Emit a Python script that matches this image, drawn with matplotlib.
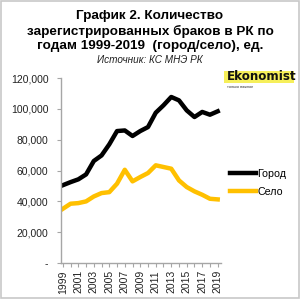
import matplotlib.pyplot as plt
from matplotlib.patches import Rectangle

years = list(range(1999, 2020))
city = [50500, 52500, 54300, 57500, 66200, 69800, 77000, 85600, 86000, 82400,
        85600, 88200, 97500, 102300, 107700, 105500, 99000, 94700, 98000, 96200, 98400]
village = [35200, 38500, 38900, 40000, 43200, 45400, 46000, 51500, 60500, 53000,
           55800, 58400, 63400, 62300, 61200, 53600, 49300, 46500, 44300, 41700, 41300]
yticks = [0, 20000, 40000, 60000, 80000, 100000, 120000]
ytick_labels = ['-', '20,000', '40,000', '60,000', '80,000', '100,000', '120,000']
xticks = years
xtick_labels = [str(y) for y in years]

plt.rcParams['font.family'] = ['Liberation Sans', 'DejaVu Sans']

fig = plt.figure(figsize=(3, 3), dpi=100)
fig.patch.set_facecolor('white')
fig.patches.append(Rectangle((0.003, 0.008), 0.994, 0.99, transform=fig.transFigure,
                             fill=False, edgecolor='#c8c8c8', lw=1.2))

ax = fig.add_axes([0.203, 0.123, 0.533, 0.617])
ax.plot(years, city, color='black', lw=3.2, label='Город', solid_joinstyle='round')
ax.plot(years, village, color='#ffc000', lw=3.2, label='Село', solid_joinstyle='round')

ax.set_xlim(1998.75, 2019.4)
ax.set_ylim(0, 120000)
ax.set_yticks(yticks)
ax.set_yticklabels(ytick_labels, fontsize=7.5, color='#222222')
ax.set_xticks(xticks)
ax.set_xticklabels([l if i % 2 == 0 else '' for i, l in enumerate(xtick_labels)],
                   rotation=90, fontsize=7.5, color='#222222')
ax.tick_params(axis='y', length=3, color='#a6a6a6', pad=6)
ax.tick_params(axis='x', length=3, color='#a6a6a6', pad=2)
for s in ['top', 'right']:
    ax.spines[s].set_visible(False)
for s in ['left', 'bottom']:
    ax.spines[s].set_color('#a6a6a6')
    ax.spines[s].set_linewidth(1)

leg = ax.legend(loc='upper left', bbox_to_anchor=(1.0, 0.56), frameon=False,
                fontsize=7.7, handlelength=2.4, handletextpad=0.1, labelspacing=0.7)
for line in leg.get_lines():
    line.set_linewidth(3.2)

fig.text(0.5, 0.945, 'График 2. Количество', ha='center', va='center',
         fontsize=9.7, fontweight='bold')
fig.text(0.5, 0.895, 'зарегистрированных браков в РК по', ha='center', va='center',
         fontsize=9.7, fontweight='bold')
fig.text(0.5, 0.847, 'годам 1999-2019  (город/село), ед.', ha='center', va='center',
         fontsize=9.7, fontweight='bold')
fig.text(0.5, 0.801, 'Источник: КС МНЭ РК', ha='center', va='center',
         fontsize=7.2, fontstyle='italic', color='#222222')

# logo
fig.patches.append(Rectangle((0.745, 0.722), 0.235, 0.04, transform=fig.transFigure,
                             facecolor='#f6ef5a', edgecolor='none'))
fig.text(0.755, 0.745, 'Ekonomist', ha='left', va='center', fontsize=8.6,
         fontweight='bold', color='#111111', family='DejaVu Sans')
fig.text(0.757, 0.71, 'только важное', ha='left', va='center', fontsize=2.8,
         color='#333333')

fig.savefig('out.png', dpi=100)
